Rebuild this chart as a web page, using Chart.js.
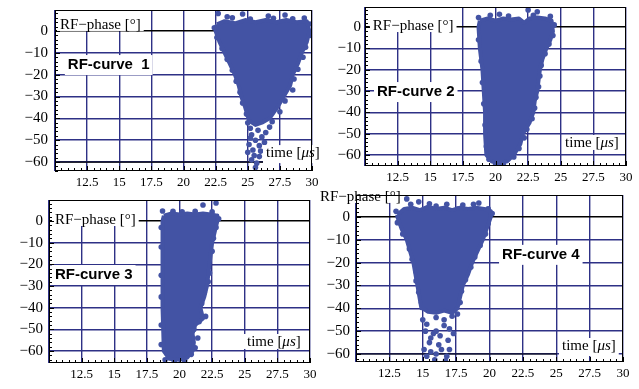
<!DOCTYPE html>
<html>
<head>
<meta charset="utf-8">
<script src="https://cdn.jsdelivr.net/npm/chart.js@4.4.1/dist/chart.umd.min.js"></script>
<style>
  body { margin: 0; background: #fff; }
  #wrap { position: relative; width: 639px; height: 389px; overflow: hidden; background: #fff; }
  canvas { position: absolute; }
</style>
</head>
<body>
<div id="wrap">
  <canvas id="c1" width="320" height="195" style="left:0;top:0"></canvas>
  <canvas id="c2" width="319" height="195" style="left:320px;top:0"></canvas>
  <canvas id="c3" width="320" height="194" style="left:0;top:195px"></canvas>
  <canvas id="c4" width="319" height="204" style="left:320px;top:185px"></canvas>
</div>
<script>
// axis ticks (time in us, RF phase in degrees)
var xTicks = [10, 12.5, 15, 17.5, 20, 22.5, 25, 27.5, 30];
var yTicks = [-60, -50, -40, -30, -20, -10, 0];

// dense core of each point cloud (outline)
var curve1Core = [[22.6,3],[23.2,4.5],[24.0,3.5],[24.8,5],[25.6,4],[26.4,5],[27.2,4],[28.0,5],[28.8,4],[29.6,4.5],
  [29.8,0],[29.6,-5],[29.2,-10],[28.9,-15],[28.5,-20],[28.3,-25],[27.8,-30],[27.3,-35],[26.7,-40],[26.1,-42],
  [25.6,-43],[25.1,-41],[24.8,-35],[24.5,-30],[24.3,-25],[24.0,-20],[23.6,-15],[23.2,-10],[22.8,-5],[22.5,0],[22.6,3]];
var curve2Core = [[18.8,3],[19.4,4],[20.0,3],[20.6,4],[21.2,3.5],[21.8,4],[22.2,2],[22.6,4],[23.2,4.5],[23.8,4],[24.3,3],
  [24.4,-2],[24.2,-6],[23.9,-10],[23.6,-15],[23.4,-20],[23.3,-25],[23.2,-30],[23.0,-35],[22.9,-40],[22.6,-45],
  [22.1,-50],[21.9,-55],[21.4,-60],[20.9,-63],[20.2,-64],[19.7,-63],[19.3,-60],[19.2,-50],[19.2,-40],[19.1,-30],
  [19.0,-20],[18.8,-10],[18.7,0],[18.8,3]];
var curve3Core = [[18.8,2.5],[19.4,3.5],[20.0,3],[20.6,3.5],[21.2,3],[21.8,3.5],[22.4,3],[22.9,2.5],
  [22.9,0],[22.7,-5],[22.5,-10],[22.3,-20],[22.1,-30],[21.9,-35],[21.6,-40],[21.8,-45],[21.2,-48],[21.0,-52],
  [21.1,-56],[21.0,-60],[20.6,-63],[20.0,-64],[19.2,-63.5],[18.8,-60],[18.7,-40],[18.7,-20],[18.7,0],[18.8,2.5]];
var curve4Core = [[13.1,1],[13.6,3.5],[14.2,4],[14.8,3],[15.4,4.5],[16.0,3.5],[16.6,4],[17.2,3],[17.8,4],[18.4,3.5],
  [19.0,4],[19.6,3.5],[20.1,2.5],[20.1,0],[19.8,-5],[19.5,-10],[19.1,-15],[18.7,-20],[18.4,-25],[18.0,-30],
  [17.8,-35],[17.6,-40],[17.2,-42],[16.6,-41],[16.0,-42],[15.4,-41.5],[15.0,-40],[14.9,-40],[14.6,-30],
  [14.3,-20],[13.8,-10],[13.4,-5],[13.1,0],[13.1,1]];

// scattered points on the edges and in the tails
var curve1Pts = [[22.7,8],[23.4,6.5],[24.6,7.8],[25.2,5.5],[26.6,6.8],[27.9,7.3],[28.5,5.6],[29.4,5.9],[29.8,3.2],
  [22.4,1.5],[23.8,6],[27.0,5.8],[29.9,-2],[29.5,-7.5],[29.3,-12],[28.9,-17.5],[28.6,-22],[28.5,-27],[27.9,-32],
  [27.5,-37],[26.9,-41.5],[26.7,-44],[22.6,-3],[23.0,-8],[23.4,-13],[23.8,-18],[24.1,-23],[24.4,-28],[24.6,-33],
  [24.9,-38],[25.0,-42],[25.2,-44.5],[25.8,-45.5],[26.4,-46.5],[25.3,-47.5],[26.1,-48.5],[25.6,-50],[25.1,-52],
  [25.9,-52.5],[26.3,-51],[25.4,-54.5],[25.0,-55.5],[25.5,-57],[25.9,-57.5],[25.3,-59],[25.7,-60.5],[25.6,-62.5],
  [26.0,-55],[25.2,-49]];
var curve2Pts = [[18.7,4.5],[20.3,6],[22.5,8],[23.2,7.2],[22.9,5.5],[24.2,5],[21.0,5.2],[19.6,5.5],[24.5,1],[24.4,-4],
  [24.1,-8],[23.8,-12.5],[23.5,-18],[23.4,-23],[23.3,-28],[23.1,-33],[23.0,-38],[22.8,-43],[22.4,-48],[22.2,-52],
  [21.8,-57],[21.4,-61],[20.6,-64.5],[20.0,-65],[19.5,-62],[19.3,-56],[19.2,-46],[19.1,-36],[19.0,-26],[18.9,-16],
  [18.7,-6]];
var curve3Pts = [[18.7,4.6],[21.8,7.4],[22.8,8.3],[19.5,4.5],[20.2,4.2],[21.2,4.5],[22.5,4.2],[23.0,1],[22.8,-3],
  [22.6,-8],[22.5,-14],[22.3,-24],[22.2,-28],[21.9,-33],[21.7,-38],[22.0,-44],[21.5,-46.5],[21.1,-50],[21.4,-54],
  [21.2,-58.5],[20.9,-61.5],[20.4,-64.5],[19.6,-65],[18.9,-64],[18.6,-57],[18.6,-48],[18.6,-35],[18.6,-25],
  [18.6,-12],[18.6,-3]];
var curve4Pts = [[13.8,7.9],[14.7,6.6],[16.0,4.8],[19.2,6.1],[17.6,3.5],[13.0,2.5],[14.1,5.5],[15.5,5.8],[16.8,5.5],
  [18.0,5.2],[18.8,5.5],[19.9,3.6],[20.2,1.5],[19.9,-3],[19.7,-7.5],[19.3,-12.5],[18.9,-17.5],[18.6,-22],[18.2,-27.5],
  [17.9,-32.5],[17.8,-37.5],[17.6,-42.5],[13.1,-2.5],[13.5,-7.5],[14.0,-14],[14.2,-18.5],[14.5,-24],[14.5,-28],
  [14.7,-33],[14.9,-37.5],[15.0,-45],[15.3,-47],[16.0,-44],[16.6,-45],[17.2,-43.5],[15.2,-50],[15.8,-51],[16.3,-52],
  [16.0,-50],[17.0,-49],[17.3,-51],[15.5,-55],[16.2,-56],[16.9,-54],[15.1,-58],[15.6,-59],[16.4,-58],[17.0,-58],
  [15.3,-61],[16.0,-60],[16.8,-61],[16.7,-63],[15.9,-62.5],[15.6,-53],[16.6,-47.5]];

var navy = '#2e3186';
var dotBlue = '#4353a4';
var serif = '"Liberation Serif", "Times New Roman", serif';
var sans = '"Liberation Sans", Arial, sans-serif';

function toXY(arr) {
  return arr.map(function (p) { return { x: p[0], y: p[1] }; });
}

function phaseLabel(x, y, toTop) {
  return { x: x, y: y, toTop: toTop, padT: 9, padB: 6, font: '15px ' + serif, parts: [['RF\u2212phase [\u00b0]', '']] };
}
function curveLabel(x, y, txt) {
  return { x: x, y: y, padT: 10, padB: 10, font: 'bold 15px ' + sans, parts: [[txt, '']] };
}
function timeLabel(x, y, padB) {
  return { x: x, y: y, padT: 8, padB: padB, font: '15px ' + serif,
    parts: [['time [', ''], ['\u03bcs', 'italic '], [']', '']] };
}

function drawLabel(ctx, x, y, a, l) {
  ctx.font = l.font;
  var w = 0;
  l.parts.forEach(function (p) { ctx.font = p[1] + l.font; w += ctx.measureText(p[0]).width; });
  var left = x.getPixelForValue(l.x);
  var cy = y.getPixelForValue(l.y);
  var top = l.toTop ? a.top + 1 : cy - l.padT;
  ctx.fillStyle = '#fff';
  ctx.fillRect(left - 3, top, w + 6, cy + l.padB - top);
  ctx.fillStyle = '#000';
  ctx.textBaseline = 'middle';
  ctx.textAlign = 'left';
  var px = left;
  l.parts.forEach(function (p) {
    ctx.font = p[1] + l.font;
    ctx.fillText(p[0], px, cy);
    px += ctx.measureText(p[0]).width;
  });
}

var decorate = {
  id: 'decorate',
  beforeDatasetsDraw: function (chart, args, o) {
    if (o.axisEnd == null) return;
    var ctx = chart.ctx, x = chart.scales.x, y = chart.scales.y;
    var py = y.getPixelForValue(-60);
    ctx.save();
    ctx.strokeStyle = '#000';
    ctx.lineWidth = 1.2;
    ctx.beginPath();
    ctx.moveTo(x.left, py);
    ctx.lineTo(x.getPixelForValue(o.axisEnd), py);
    ctx.stroke();
    ctx.restore();
  },
  afterDatasetsDraw: function (chart, args, o) {
    var ctx = chart.ctx, a = chart.chartArea, x = chart.scales.x, y = chart.scales.y;
    ctx.save();
    o.labels.forEach(function (l) { drawLabel(ctx, x, y, a, l); });
    // frame with small inward ticks
    ctx.strokeStyle = '#000';
    ctx.lineWidth = 1;
    ctx.strokeRect(Math.round(a.left) + 0.5, Math.round(a.top) + 0.5,
      Math.round(a.width) - 1, Math.round(a.height) - 1);
    ctx.beginPath();
    for (var v = 10; v <= 30; v += 0.5) {
      var px = Math.round(x.getPixelForValue(v)) + 0.5;
      var len = (v % 2.5 === 0) ? 5 : 3;
      ctx.moveTo(px, a.bottom);
      ctx.lineTo(px, a.bottom - len);
    }
    for (var t = -64; t <= 8; t += 2) {
      if (t < y.min) continue;
      var py = Math.round(y.getPixelForValue(t)) + 0.5;
      var ln = (t % 10 === 0) ? 5 : 3;
      ctx.moveTo(a.left, py);
      ctx.lineTo(a.left + ln, py);
    }
    ctx.stroke();
    ctx.restore();
  }
};

function newPanel(id, core, pts, box, yMin, yMax, labels, axisEnd, yPad) {
  var cv = document.getElementById(id);
  var ctx = cv.getContext('2d');
  return new Chart(ctx, {
    type: 'scatter',
    data: {
      datasets: [
        {
          type: 'line', data: toXY(core), borderColor: dotBlue, backgroundColor: dotBlue,
          borderWidth: 4, borderJoinStyle: 'round', fill: 'shape', pointRadius: 0, tension: 0
        },
        {
          data: toXY(pts), backgroundColor: dotBlue, borderWidth: 0, pointRadius: 2.8, pointStyle: 'circle'
        }
      ]
    },
    options: {
      responsive: false,
      animation: false,
      events: [],
      layout: { padding: { left: 0, top: box.top, right: cv.width - box.right, bottom: 0 } },
      plugins: {
        legend: { display: false },
        tooltip: { enabled: false },
        decorate: { labels: labels, axisEnd: axisEnd }
      },
      scales: {
        x: {
          type: 'linear', min: 10, max: 30,
          afterBuildTicks: function (s) { s.ticks = xTicks.map(function (v) { return { value: v }; }); },
          afterFit: function (s) { s.height = cv.height - box.bottom; s.paddingLeft = 0; s.paddingRight = 0; },
          grid: { color: navy, lineWidth: 1.4, drawTicks: false },
          border: { display: false },
          ticks: {
            padding: 4, color: '#000', maxRotation: 0, autoSkip: false,
            font: { family: serif, size: 13 },
            callback: function (v) { return v === 10 ? '' : String(v); }
          }
        },
        y: {
          type: 'linear', min: yMin, max: yMax,
          afterBuildTicks: function (s) { s.ticks = yTicks.map(function (v) { return { value: v }; }); },
          afterFit: function (s) { s.width = box.left; s.paddingTop = 0; s.paddingBottom = 0; },
          grid: {
            color: function (c) { return c.tick && c.tick.value === 0 ? '#000' : navy; },
            lineWidth: 1.4, drawTicks: false
          },
          border: { display: false },
          ticks: {
            padding: yPad, color: '#000', autoSkip: false,
            font: { family: serif, size: 15 },
            callback: function (v) { return v === 0 ? '0' : '\u2212' + Math.abs(v); }
          }
        }
      }
    },
    plugins: [decorate]
  });
}

newPanel('c1', curve1Core, curve1Pts, { left: 55, top: 10, right: 312, bottom: 171 }, -64.1, 9.6,
  [phaseLabel(10.39, 2.75, true), curveLabel(11.0, -15.6, 'RF-curve  1'), timeLabel(26.42, -55.9, 10)], 26.3, 7);
newPanel('c2', curve2Core, curve2Pts, { left: 45, top: 7, right: 306, bottom: 166 }, -65.2, 9.4,
  [phaseLabel(10.6, 0.47, true), curveLabel(10.92, -30.5, 'RF-curve 2'), timeLabel(25.33, -54.4, 7)], null, 4);
newPanel('c3', curve3Core, curve3Pts, { left: 49, top: 5, right: 310, bottom: 168 }, -65.5, 9.7,
  [phaseLabel(10.46, 0.46, true), curveLabel(10.46, -24.9, 'RF-curve 3'), timeLabel(25.17, -55.8, 7)], null, 6);
newPanel('c4', curve4Core, curve4Pts, { left: 36, top: 10, right: 303, bottom: 177 }, -63.5, 9.6,
  [phaseLabel(7.3, 8.76, false), curveLabel(20.94, -16.6, 'RF-curve 4'), timeLabel(25.43, -56.5, 10)], 25.06, 6);
</script>
</body>
</html>
